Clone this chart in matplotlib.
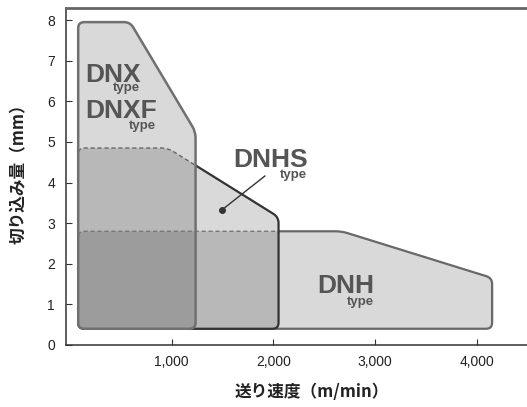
import numpy as np
import matplotlib
matplotlib.use("Agg")
import matplotlib.pyplot as plt
from matplotlib.path import Path
from matplotlib.patches import PathPatch

plt.rcParams['font.family'] = ['Liberation Sans', 'Noto Sans CJK JP', 'DejaVu Sans']

# application ranges: feed speed (m/min) vs depth of cut (mm)
dnx_speed = [80, 80, 590, 1234, 1234]
dnx_depth = [0.4, 7.95, 7.95, 5.25, 0.4]
dnhs_speed = [80, 80, 960, 2050, 2050]
dnhs_depth = [0.4, 4.85, 4.85, 3.15, 0.4]
dnh_speed = [80, 80, 2670, 4150, 4150]
dnh_depth = [0.4, 2.8, 2.8, 1.65, 0.4]

xticks = [1000, 2000, 3000, 4000]
xtick_labels = ['1,000', '2,000', '3,000', '4,000']
yticks = [0, 1, 2, 3, 4, 5, 6, 7, 8]

# pixels per data unit, used to make the corner rounding look round
SX, SY = 0.1017, 40.6


def rounded(xs, ys, r=6):
    pts = np.column_stack([np.array(xs) * SX, np.array(ys) * SY])
    n = len(pts)
    verts, codes = [], []
    for i in range(n):
        p, v, q = pts[i - 1], pts[i], pts[(i + 1) % n]
        d1 = p - v
        d2 = q - v
        l1 = np.hypot(*d1)
        l2 = np.hypot(*d2)
        rr = min(r, l1 / 2, l2 / 2)
        verts += [v + d1 / l1 * rr, v, v + d2 / l2 * rr]
        codes += [Path.MOVETO if i == 0 else Path.LINETO, Path.CURVE3, Path.CURVE3]
    verts.append(verts[0])
    codes.append(Path.CLOSEPOLY)
    return Path(np.array(verts) / [SX, SY], codes)


def outside(path):
    # big box (counter-clockwise) with the shape (clockwise) as a hole
    box = Path([(-1e5, -50), (1e5, -50), (1e5, 50), (-1e5, 50), (-1e5, -50)],
               [Path.MOVETO, Path.LINETO, Path.LINETO, Path.LINETO, Path.CLOSEPOLY])
    return Path.make_compound_path(box, path)


fig = plt.figure(figsize=(5.27, 4.07), dpi=100)
ax = fig.add_axes([66 / 527, 62 / 407, 461 / 527, 337.5 / 407])
ax.set_xlim(-40, 4493)
ax.set_ylim(0, 8.31)

dnx = rounded(dnx_speed, dnx_depth)
dnhs = rounded(dnhs_speed, dnhs_depth)
dnh = rounded(dnh_speed, dnh_depth)

# translucent fills, overlaps get darker
for shape in [dnh, dnhs, dnx]:
    ax.add_patch(PathPatch(shape, facecolor='black', alpha=0.15, edgecolor='none', zorder=1))

# DNH outline: solid outside DNHS, dashed inside
p = PathPatch(dnh, fill=False, edgecolor='#686868', lw=1.6, zorder=2)
ax.add_patch(p)
p.set_clip_path(outside(dnhs), ax.transData)
p = PathPatch(dnh, fill=False, edgecolor='#777777', lw=1.0, ls=(0, (3, 2)), zorder=2)
ax.add_patch(p)
p.set_clip_path(dnhs, ax.transData)

# DNHS outline: solid outside DNX, dashed inside
p = PathPatch(dnhs, fill=False, edgecolor='#333333', lw=1.6, zorder=3)
ax.add_patch(p)
p.set_clip_path(outside(dnx), ax.transData)
p = PathPatch(dnhs, fill=False, edgecolor='#666666', lw=1.0, ls=(0, (3, 2)), zorder=3)
ax.add_patch(p)
p.set_clip_path(dnx, ax.transData)

# DNX outline on top
ax.add_patch(PathPatch(dnx, fill=False, edgecolor='#707070', lw=1.8, zorder=4))

# pointer for DNHS
ax.plot([1490, 1915], [3.32, 4.16], color='#333333', lw=1.0, zorder=5)
ax.plot([1490], [3.32], 'o', color='#333333', ms=4, zorder=5)

txt = dict(color='#555555', fontweight='bold', va='baseline', ha='left', zorder=6)
ax.text(154, 6.48, 'DNX', fontsize=19, **txt)
ax.text(421, 6.26, 'type', fontsize=9.5, **txt)
ax.text(154, 5.59, 'DNXF', fontsize=19, **txt)
ax.text(578, 5.32, 'type', fontsize=9.5, **txt)
ax.text(1600, 4.38, 'DNHS', fontsize=19, **txt)
ax.text(2062, 4.10, 'type', fontsize=9.5, **txt)
ax.text(2426, 1.28, 'DNH', fontsize=19, **txt)
ax.text(2721, 0.99, 'type', fontsize=9.5, **txt)

ax.set_xticks(xticks)
ax.set_xticklabels(xtick_labels)
ax.set_yticks(yticks)
ax.tick_params(direction='in', length=4, width=0.8, color='#333333', labelsize=10,
               labelcolor='#222222')
ax.tick_params(axis='y', pad=8)
ax.tick_params(axis='x', pad=7)

ax.spines['right'].set_visible(False)
ax.spines['top'].set_color('#666666')
ax.spines['top'].set_linewidth(2.0)
ax.spines['left'].set_color('#333333')
ax.spines['left'].set_linewidth(1.1)
ax.spines['bottom'].set_color('#333333')
ax.spines['bottom'].set_linewidth(1.1)

ax.set_xlabel('送り速度（m/min）', fontsize=12, fontweight='bold',
              family=['Noto Sans CJK JP', 'DejaVu Sans'], color='#222222')
ax.xaxis.set_label_coords(0.534, -0.113)
ax.set_ylabel('切り込み量（mm）', fontsize=12, fontweight='bold',
              family=['Noto Sans CJK JP', 'DejaVu Sans'], color='#222222')
ax.yaxis.set_label_coords(-0.082, 0.519)

fig.savefig('out.png', dpi=100, facecolor='white')
